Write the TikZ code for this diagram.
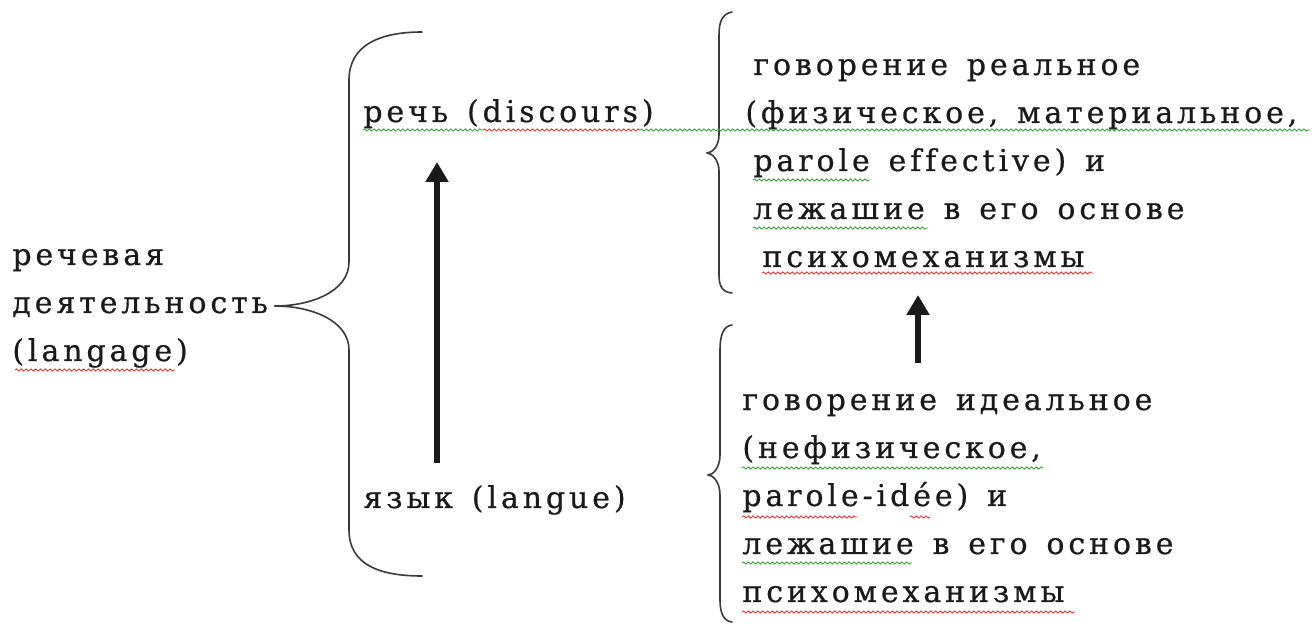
\documentclass[tikz,border=0pt]{standalone}
\usepackage{fontspec}
\setmainfont{DejaVu Serif}[LetterSpace=13,WordSpace=1.4,FakeBold=0.6,Ligatures=NoCommon]
\usetikzlibrary{arrows.meta,decorations.pathmorphing}
\definecolor{ink}{HTML}{1A1A1A}
\definecolor{brc}{HTML}{3A3A3A}
\definecolor{spgreen}{HTML}{3DA03D}
\definecolor{spred}{HTML}{E03A3A}
\tikzset{
  txt/.style={anchor=base west, inner sep=0pt, text=ink, font=\fontsize{15}{24}\selectfont, align=left},
  brace/.style={draw=brc, line width=0.8pt, line cap=round, line join=round},
  up/.style={draw=ink, line width=3pt, -{Triangle[length=10pt,width=11pt]}},
  wavyg/.style={draw=spgreen, line width=0.45pt, decorate, decoration={snake, amplitude=0.55pt, segment length=2.4pt}},
  wavyr/.style={wavyg, draw=spred}
}
\begin{document}
\begin{tikzpicture}[x=0.5pt,y=-0.5pt]
  \useasboundingbox[fill=white] (0,0) rectangle (1313,625);
  % left column (base = last line)
  \node[txt] (langage) at (12,361) {речевая\\деятельность\\(langage)};
  \draw[brace] (275,306) .. controls (310,306) and (349,292) .. (349,262)
    -- (349,80) .. controls (349,45) and (380,32) .. (422,32);
  \draw[brace] (275,306) .. controls (310,306) and (349,320) .. (349,350)
    -- (349,530) .. controls (349,565) and (380,576) .. (422,576);
  % middle column
  \node[txt] (rech) at (363,122) {речь (discours)};
  \node[txt] (yazyk) at (363,508) {язык (langue)};
  \coordinate (lo) at (437,463);
  \coordinate (hi) at (437,162);
  \draw[up] (lo) -- (hi);
  % right column, upper brace
  \draw[brace] (707,153) .. controls (712,153) and (719,146) .. (719,135)
    -- (719,35) .. controls (719,22) and (722,14) .. (732,12);
  \draw[brace] (707,153) .. controls (712,153) and (719,160) .. (719,171)
    -- (719,275) .. controls (719,286) and (722,292) .. (732,293);
  \node[txt] (real) at (745,267) {\hspace*{4pt}говорение реальное\\(физическое, материальное,\\\hspace*{4pt}parole effective) и\\\hspace*{4pt}лежашие в его основе\\\hspace*{8.5pt}психомеханизмы};
  % right column, lower brace
  \draw[brace] (708,475) .. controls (713,475) and (720,468) .. (720,455)
    -- (720,350) .. controls (720,336) and (723,326) .. (732,325);
  \draw[brace] (708,475) .. controls (713,475) and (720,482) .. (720,495)
    -- (720,600) .. controls (720,612) and (723,621) .. (732,622);
  \node[txt] (ideal) at (742,602) {говорение идеальное\\(нефизическое,\\parole-idée) и\\лежашие в его основе\\психомеханизмы};
  \coordinate (lo2) at (918,363);
  \coordinate (hi2) at (918,295);
  \draw[up] (lo2) -- (hi2);
  % spelling marks
  \draw[wavyg] (363,130) -- (483,130);
  \draw[wavyr] (483,130) -- (640,130);
  \draw[wavyg] (640,130) -- (1310,130);
  \draw[wavyr] (15,370) -- (175,370);
  \draw[wavyg] (753,180) -- (870,180);
  \draw[wavyg] (753,228) -- (928,228);
  \draw[wavyr] (762,273) -- (1093,273);
  \draw[wavyg] (742,468) -- (1043,468);
  \draw[wavyr] (742,517) -- (857,517);
  \draw[wavyr] (910,517) -- (930,517);
  \draw[wavyg] (742,563) -- (912,563);
  \draw[wavyr] (742,612) -- (1075,612);
\end{tikzpicture}
\end{document}
